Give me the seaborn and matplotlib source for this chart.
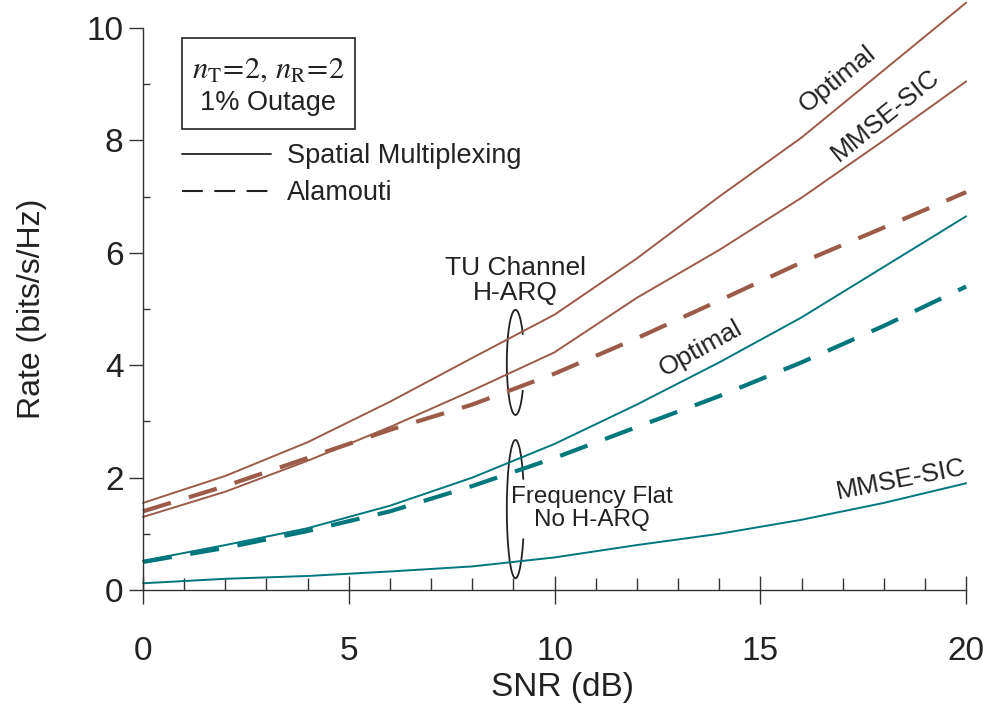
import numpy as np
import pandas as pd
import matplotlib.pyplot as plt
import seaborn as sns
from matplotlib.lines import Line2D
from matplotlib.patches import Arc, Rectangle
from matplotlib.ticker import MultipleLocator

# SNR grid and outage rates
snr = [0, 2, 4, 6, 8, 10, 12, 14, 16, 18, 20]
tu_optimal = [1.55, 2.03, 2.63, 3.35, 4.13, 4.9, 5.9, 7.0, 8.05, 9.25, 10.45]
tu_mmse = [1.3, 1.75, 2.3, 2.9, 3.55, 4.23, 5.2, 6.05, 6.98, 8.0, 9.05]
tu_alamouti = [1.4, 1.85, 2.35, 2.85, 3.3, 3.85, 4.48, 5.15, 5.83, 6.45, 7.08]
ff_optimal = [0.52, 0.8, 1.1, 1.5, 2.0, 2.6, 3.3, 4.05, 4.85, 5.75, 6.65]
ff_mmse = [0.12, 0.2, 0.25, 0.33, 0.42, 0.58, 0.8, 1.0, 1.25, 1.55, 1.9]
ff_alamouti = [0.5, 0.75, 1.05, 1.4, 1.85, 2.35, 2.9, 3.45, 4.05, 4.7, 5.4]

brown = "#9c5a48"
teal = "#00777d"
ink = "#222222"

sns.set_style("ticks")
plt.rcParams["font.family"] = ["Liberation Sans", "DejaVu Sans"]
plt.rcParams["mathtext.fontset"] = "stix"

fig = plt.figure(figsize=(9.91, 7.09), dpi=100)
ax = fig.add_axes([0.1443, 0.1678, 0.8306, 0.7927])

df = pd.DataFrame({"snr": snr})
for vals, col in [(tu_optimal, brown), (tu_mmse, brown), (ff_optimal, teal), (ff_mmse, teal)]:
    sns.lineplot(x=df["snr"], y=vals, ax=ax, color=col, linewidth=1.4, clip_on=False)
for vals, col in [(tu_alamouti, brown), (ff_alamouti, teal)]:
    sns.lineplot(x=df["snr"], y=vals, ax=ax, color=col, linewidth=3.0,
                 linestyle=(0, (7, 4.5)), clip_on=False)

ax.set_xlim(0, 20)
ax.set_ylim(0, 10)
ax.xaxis.set_major_locator(MultipleLocator(5))
ax.xaxis.set_minor_locator(MultipleLocator(1))
ax.yaxis.set_major_locator(MultipleLocator(2))
ax.yaxis.set_minor_locator(MultipleLocator(1))
ax.tick_params(axis="x", which="major", direction="inout", length=20, width=1, pad=23,
               labelsize=24, color="#333333", labelcolor=ink)
ax.tick_params(axis="x", which="minor", direction="in", length=9, width=1, color="#333333")
ax.tick_params(axis="y", which="major", direction="out", length=10, width=1, pad=4,
               labelsize=24, color="#333333", labelcolor=ink)
ax.tick_params(axis="y", which="minor", direction="in", length=5, width=1, color="#333333")
sns.despine(ax=ax)
for s in ["left", "bottom"]:
    ax.spines[s].set_color("#333333")
    ax.spines[s].set_linewidth(1)

ax.set_xlabel("SNR (dB)", fontsize=24, color=ink)
ax.xaxis.set_label_coords(0.51, -0.145)
ax.set_ylabel("Rate (bits/s/Hz)", fontsize=23, color=ink)
ax.yaxis.set_label_coords(-0.117, 0.5)

# curve labels
ax.text(16.87, 9.1, "Optimal", fontsize=19, rotation=39, ha="center", va="center", color=ink)
ax.text(18.03, 8.45, "MMSE-SIC", fontsize=19, rotation=39, ha="center", va="center", color=ink)
ax.text(13.54, 4.29, "Optimal", fontsize=19, rotation=29, ha="center", va="center", color=ink)
ax.text(18.42, 1.96, "MMSE-SIC", fontsize=19, rotation=11, ha="center", va="center", color=ink)

# group braces
ax.add_patch(Arc((9.05, 4.05), 0.42, 1.87, theta1=70, theta2=290, color=ink, lw=1.3))
ax.add_patch(Arc((9.05, 1.44), 0.42, 2.46, theta1=70, theta2=290, color=ink, lw=1.3))
ax.text(9.05, 5.5, "TU Channel\nH-ARQ", fontsize=19, ha="center", va="center",
        linespacing=1.05, color=ink)
ax.text(10.9, 1.45, "Frequency Flat\nNo H-ARQ", fontsize=17.5, ha="center", va="center",
        linespacing=1.1, color=ink)

# parameter box
ax.add_patch(Rectangle((0.0474, 0.8203), 0.2102, 0.1617, transform=ax.transAxes,
                       fill=False, ec=ink, lw=1.2, clip_on=False))
ax.text(0.152, 0.925, "$n_{\\mathrm{T}}\\!=\\!2,\\, n_{\\mathrm{R}}\\!=\\!2$",
        transform=ax.transAxes, fontsize=22, ha="center", va="center", color=ink)
ax.text(0.152, 0.8665, "1% Outage", transform=ax.transAxes, fontsize=19.5,
        ha="center", va="center", color=ink)

handles = [Line2D([], [], color=ink, lw=1.3),
           Line2D([], [], color=ink, lw=1.5, linestyle=(0, (10, 5.5)))]
leg = ax.legend(handles, ["Spatial Multiplexing", "Alamouti"], loc="upper left",
                bbox_to_anchor=(0.047, 0.795), frameon=False, fontsize=19.5,
                handlelength=3.3, handletextpad=0.6, labelspacing=0.4,
                borderpad=0, borderaxespad=0)
for t in leg.get_texts():
    t.set_color(ink)

fig.savefig("out.png", dpi=100)
